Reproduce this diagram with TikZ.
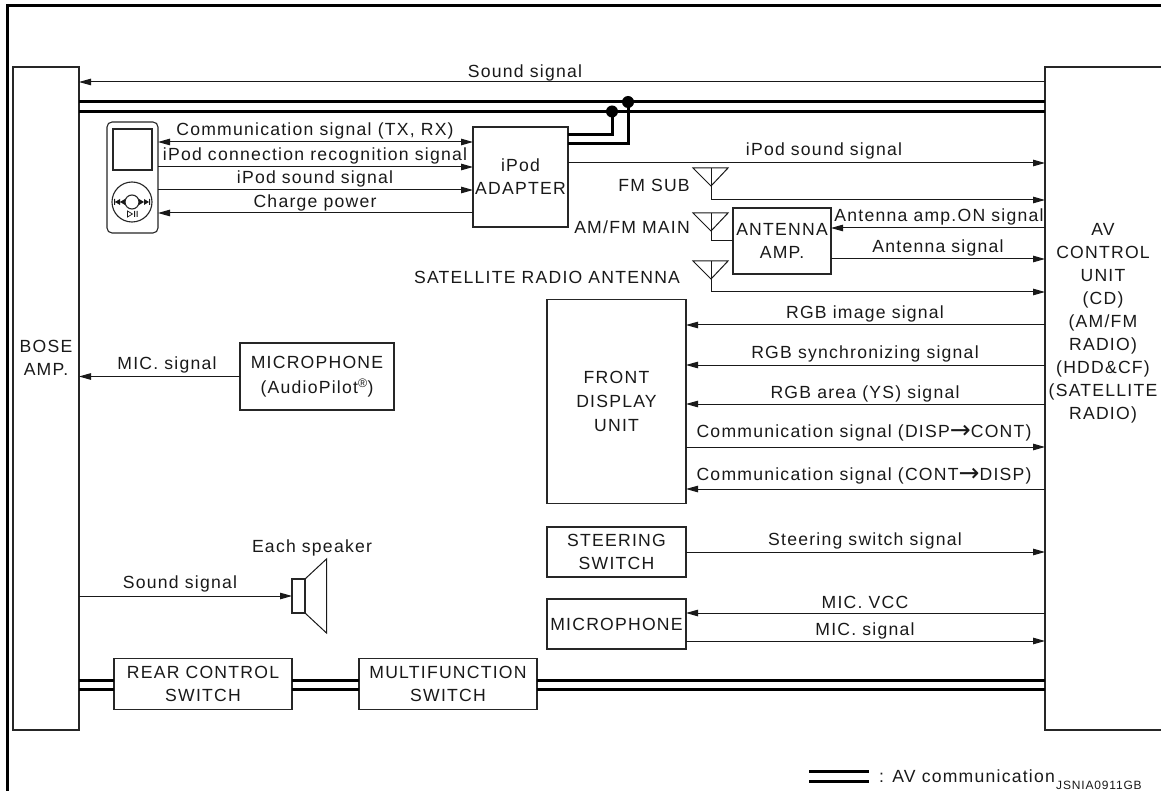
\documentclass[tikz,border=0pt]{standalone}
\usepackage{fontspec}
\setmainfont{Liberation Sans}[LetterSpace=7]
\newfontfamily\arrowfont{DejaVu Sans}
\newcommand{\dirarrow}{\raisebox{-1.8pt}{\arrowfont\fontsize{25}{25}\selectfont →}}
\usetikzlibrary{arrows.meta}

\begin{document}
\begin{tikzpicture}[
  x=1pt, y=-1pt,
  every node/.style={font=\fontsize{17.6}{23}\selectfont, text=black!90},
  unitbox/.style={
    draw=black!85, fill=white, line width=1.1pt, inner sep=0pt,
    outer sep=0pt, align=center
  },
  lbl/.style={inner sep=0pt, text height=12pt, text depth=0pt},
  wire/.style={black!90, line width=1pt},
  sig/.style={wire, -{Triangle[length=12pt,width=6.5pt]}},
  bisig/.style={wire, {Triangle[length=12pt,width=6.5pt]}-{Triangle[length=12pt,width=6.5pt]}},
  bus/.style={black, line width=3pt},
  tap/.style={circle, fill=black, inner sep=0pt, minimum size=12pt},
  frame/.style={black, line width=3pt},
  part/.style={black!90, line width=1pt},
]
\useasboundingbox (0,0) rectangle (1161,791);

%% Outer frame, open at the page edge
\draw[frame] (7,800) -- (7,6) -- (1170,6);

%% Main units
\node[unitbox, minimum width=66pt,  minimum height=663pt] (bose) at (46,398.5) {};
\node[unitbox, minimum width=118pt, minimum height=663pt] (av)   at (1104,398.5) {};
\node[inner sep=0pt, align=center] (bosetext) at (46,358) {BOSE\\AMP.};
\node[inner sep=0pt, align=center] (avtext) at (1103,323) {AV\\CONTROL\\UNIT\\(CD)\\(AM/FM\\RADIO)\\(HDD\&CF)\\(SATELLITE\\RADIO)};

%% Inner units
\node[unitbox, minimum width=95pt,  minimum height=100pt] (adapter) at (520.5,177) {iPod\\ADAPTER};
\node[unitbox, minimum width=98pt,  minimum height=66pt]  (amp)     at (782,241) {ANTENNA\\AMP.};
\node[unitbox, minimum width=139pt, minimum height=204pt] (display) at (616.5,401.5) {FRONT\\[1pt]DISPLAY\\[1pt]UNIT};
\node[unitbox, minimum width=139pt, minimum height=50pt]  (steer)   at (616.5,552) {STEERING\\SWITCH};
\node[unitbox, minimum width=139pt, minimum height=50pt]  (mic)     at (616.5,624) {MICROPHONE};
\node[unitbox, minimum width=154pt, minimum height=67pt]  (pilot)   at (317,376.5) {MICROPHONE\\[2pt](AudioPilot\textsuperscript{®})};
\node[unitbox, minimum width=178pt, minimum height=51pt]  (rear)    at (203,684) {REAR CONTROL\\SWITCH};
\node[unitbox, minimum width=178pt, minimum height=51pt]  (multi)   at (448,684) {MULTIFUNCTION\\SWITCH};

%% iPod
\node[unitbox, rounded corners=5pt, minimum width=51pt, minimum height=111pt] (ipod) at (132.5,177.5) {};
\node[unitbox, minimum width=39pt, minimum height=41pt] (screen) at (132.5,149.5) {};
\node[unitbox, circle, minimum size=40pt] (wheel) at (132,202) {};
\node[unitbox, circle, minimum size=14pt] (hub) at (132,202) {};
\fill[part] (114,199) rectangle (115,205) (120,199) -- (115,202) -- (120,205) -- cycle (125,199) -- (120,202) -- (125,205) -- cycle;
\fill[part] (149,199) rectangle (150,205) (144,199) -- (149,202) -- (144,205) -- cycle (139,199) -- (144,202) -- (139,205) -- cycle;
\draw[part, line width=0.7pt] (127.5,211) -- (132.5,214) -- (127.5,217) -- cycle;
\fill[part] (134,211) rectangle (135.2,217) (136.5,211) rectangle (137.7,217);

%% Antennas
\foreach \name/\t in {fmsub/168, ammain/213, satant/261} {
  \draw[part] (693,\t) -- (728,\t) -- (711,\t+18) -- cycle;
  \draw[part] (711,\t) -- (711,\t+18) coordinate (\name);
}

%% Speaker
\node[unitbox, minimum width=13pt, minimum height=34pt] (speaker) at (298.5,596) {};
\draw[part] (speaker.north east) -- (326.5,559) -- (326.5,633) -- (speaker.south east);

%% AV communication lines
\foreach \y in {102,111.5} {
  \draw[bus] (bose.east |- 0,\y) -- (av.west |- 0,\y);
}
\foreach \y in {680,689} {
  \draw[bus] (bose.east |- 0,\y) -- (rear.west |- 0,\y);
  \draw[bus] (rear.east |- 0,\y) -- (multi.west |- 0,\y);
  \draw[bus] (multi.east |- 0,\y) -- (av.west |- 0,\y);
}
\node[tap] (tapa) at (612,111.5) {};
\node[tap] (tapb) at (628,102) {};
\draw[bus] (adapter.east |- 0,135) -| (tapa.center);
\draw[bus] (adapter.east |- 0,144) -| (tapb.center);

%% Signals to and from the BOSE amp
\draw[sig] (av.west |- 0,82) -- (bose.east |- 0,82);
\draw[sig] (pilot.west) -- (bose.east |- pilot.west);
\draw[sig] (bose.east |- 0,596) -- (speaker.west);

%% iPod to adapter
\draw[bisig] (ipod.east |- 0,142) -- (adapter.west |- 0,142);
\draw[sig] (ipod.east |- 0,167) -- (adapter.west |- 0,167);
\draw[sig] (ipod.east |- 0,190) -- (adapter.west |- 0,190);
\draw[sig] (adapter.west |- 0,213) -- (ipod.east |- 0,213);

%% Signals into the AV control unit
\draw[sig] (adapter.east |- 0,163) -- (av.west |- 0,163);
\draw[sig] (fmsub) |- (av.west |- 0,200);
\draw[wire] (ammain) |- (amp.west);
\draw[sig] (av.west |- 0,228) -- (amp.east |- 0,228);
\draw[sig] (amp.east |- 0,259) -- (av.west |- 0,259);
\draw[sig] (satant) |- (av.west |- 0,292);

%% Display
\draw[sig] (av.west |- 0,325) -- (display.east |- 0,325);
\draw[sig] (av.west |- 0,365) -- (display.east |- 0,365);
\draw[sig] (av.west |- 0,404) -- (display.east |- 0,404);
\draw[sig] (display.east |- 0,447) -- (av.west |- 0,447);
\draw[sig] (av.west |- 0,489) -- (display.east |- 0,489);

%% Switch and microphone
\draw[sig] (steer.east) -- (av.west |- steer.east);
\draw[sig] (av.west |- 0,613) -- (mic.east |- 0,613);
\draw[sig] (mic.east |- 0,641) -- (av.west |- 0,641);

%% Labels
\node[lbl] (l1)  at (525,72)  {Sound signal};
\node[lbl] (l2)  at (315,130) {Communication signal (TX, RX)};
\node[lbl] (l3)  at (315,155) {iPod connection recognition signal};
\node[lbl] (l4)  at (315,178) {iPod sound signal};
\node[lbl] (l5)  at (315,202) {Charge power};
\node[lbl] (l6)  at (824,150) {iPod sound signal};
\node[lbl] (l7)  at (654,186) {FM SUB};
\node[lbl] (l8)  at (632,228) {AM/FM MAIN};
\node[lbl] (l9)  at (547,278) {SATELLITE RADIO ANTENNA};
\node[lbl] (l10) at (939,216) {Antenna amp.ON signal};
\node[lbl] (l11) at (938,247) {Antenna signal};
\node[lbl] (l12) at (865,313) {RGB image signal};
\node[lbl] (l13) at (865,352) {RGB synchronizing signal};
\node[lbl] (l14) at (865,392) {RGB area (YS) signal};
\node[lbl] (l15) at (864,431) {Communication signal (DISP\dirarrow CONT)};
\node[lbl] (l16) at (864,474) {Communication signal (CONT\dirarrow DISP)};
\node[lbl] (l17) at (865,539) {Steering switch signal};
\node[lbl] (l18) at (865,602) {MIC. VCC};
\node[lbl] (l19) at (865,629) {MIC. signal};
\node[lbl] (l20) at (167,363) {MIC. signal};
\node[lbl] (l21) at (180,582) {Sound signal};
\node[lbl] (l22) at (312,546) {Each speaker};

%% Legend
\coordinate (keya) at (809,776);
\coordinate (keyb) at (869,776);
\draw[bus] ([yshift=5pt]keya) -- ([yshift=5pt]keyb);
\draw[bus] ([yshift=-5pt]keya) -- ([yshift=-5pt]keyb);
\node[lbl, anchor=west] (keytext) at (879,776) {: AV communication};
\node[lbl, anchor=west, font=\fontsize{12}{14}\selectfont] (figcode) at (1056,783) {JSNIA0911GB};

\end{tikzpicture}
\end{document}
